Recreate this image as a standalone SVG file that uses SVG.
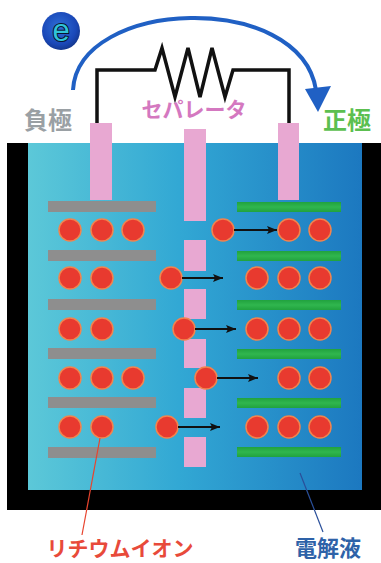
<svg xmlns="http://www.w3.org/2000/svg" width="381" height="563" viewBox="0 0 381 563">
  <defs>
    <linearGradient id="electrolyte" x1="0" y1="0" x2="1" y2="0">
      <stop offset="0" stop-color="#5cc8d8"/>
      <stop offset="0.45" stop-color="#32a8d4"/>
      <stop offset="1" stop-color="#1c78c0"/>
    </linearGradient>
    <linearGradient id="greenPlate" x1="0" y1="0" x2="0" y2="1">
      <stop offset="0" stop-color="#21a23e"/>
      <stop offset="0.5" stop-color="#30b64e"/>
      <stop offset="1" stop-color="#21a23e"/>
    </linearGradient>
    <radialGradient id="electronBall" cx="0.45" cy="0.4" r="0.6">
      <stop offset="0" stop-color="#2f6fd8"/>
      <stop offset="0.75" stop-color="#1a48b8"/>
      <stop offset="1" stop-color="#143890"/>
    </radialGradient>
    <marker id="ionArrow" viewBox="0 0 10 8" refX="10" refY="4" markerWidth="10" markerHeight="8" markerUnits="userSpaceOnUse" orient="auto">
      <path d="M0,0 L10,4 L0,8 L2,4 Z" fill="#111"/>
    </marker>
    <style>
      .plate-neg { fill: #8e8e8e; }
      .plate-pos { fill: url(#greenPlate); }
      .pink { fill: #e8a8d2; }
      .ion { fill: #e83a2f; stroke: #f2844e; stroke-width: 1.5; }
      .flow { stroke: #111; stroke-width: 1.8; fill: none; marker-end: url(#ionArrow); }
      .label { font-family: "Noto Sans CJK JP", "Noto Sans", sans-serif; font-weight: bold; text-anchor: middle; }
      .wire { stroke: #111; stroke-width: 3.5; fill: none; stroke-linejoin: miter; }
    </style>
  </defs>

  <rect width="381" height="563" fill="#ffffff"/>

  <!-- cell container and electrolyte -->
  <g id="container">
    <rect x="7" y="143" width="374" height="367" fill="#000"/>
    <rect x="28" y="143" width="334" height="347" fill="url(#electrolyte)"/>
  </g>

  <!-- external circuit with resistor -->
  <g id="circuit">
    <path class="wire" d="M97,124 V70 H155 L162,48 L175,97 L188,48 L200,97 L212,48 L225,97 L233,70 H289 V124"/>
  </g>

  <!-- electron flow arc -->
  <g id="electron-flow">
    <path d="M73,90 C78,-2 300,-10 316,90" stroke="#2060c4" stroke-width="4" fill="none"/>
    <path d="M305,89 L331,86 L318,112 Z" fill="#2060c4"/>
  </g>

  <g id="electron">
    <circle cx="61" cy="31" r="19" fill="url(#electronBall)"/>
    <text x="61" y="41" font-family="Liberation Sans, sans-serif" font-size="31" text-anchor="middle" fill="#30c4d8" stroke="#081430" stroke-width="2" paint-order="stroke">e</text>
  </g>

  <!-- negative electrode -->
  <g id="negative-electrode">
    <rect class="pink" x="90" y="123" width="22" height="77"/>
    <rect class="plate-neg" x="48" y="201" width="108" height="11"/>
    <rect class="plate-neg" x="48" y="250" width="108" height="11"/>
    <rect class="plate-neg" x="48" y="299" width="108" height="11"/>
    <rect class="plate-neg" x="48" y="348" width="108" height="11"/>
    <rect class="plate-neg" x="48" y="397" width="108" height="11"/>
    <rect class="plate-neg" x="48" y="447" width="108" height="11"/>
  </g>

  <!-- positive electrode -->
  <g id="positive-electrode">
    <rect class="pink" x="278" y="123" width="21" height="77"/>
    <rect class="plate-pos" x="237" y="202" width="104" height="10"/>
    <rect class="plate-pos" x="237" y="251" width="104" height="10"/>
    <rect class="plate-pos" x="237" y="300" width="104" height="10"/>
    <rect class="plate-pos" x="237" y="349" width="104" height="10"/>
    <rect class="plate-pos" x="237" y="398" width="104" height="10"/>
    <rect class="plate-pos" x="237" y="447" width="104" height="10"/>
  </g>

  <!-- separator -->
  <g id="separator">
    <rect class="pink" x="184" y="129" width="22" height="92"/>
    <rect class="pink" x="184" y="240" width="22" height="31"/>
    <rect class="pink" x="184" y="289" width="22" height="30"/>
    <rect class="pink" x="184" y="339" width="22" height="29"/>
    <rect class="pink" x="184" y="388" width="22" height="30"/>
    <rect class="pink" x="184" y="437" width="22" height="30"/>
  </g>

  <!-- lithium ions -->
  <g id="ions">
    <circle class="ion" cx="70" cy="230" r="11"/>
    <circle class="ion" cx="102" cy="230" r="11"/>
    <circle class="ion" cx="133" cy="230" r="11"/>
    <circle class="ion" cx="223" cy="230" r="11"/>
    <circle class="ion" cx="289" cy="230" r="11"/>
    <circle class="ion" cx="320" cy="230" r="11"/>

    <circle class="ion" cx="70" cy="278" r="11"/>
    <circle class="ion" cx="102" cy="278" r="11"/>
    <circle class="ion" cx="171" cy="278" r="11"/>
    <circle class="ion" cx="257" cy="278" r="11"/>
    <circle class="ion" cx="289" cy="278" r="11"/>
    <circle class="ion" cx="320" cy="278" r="11"/>

    <circle class="ion" cx="70" cy="329" r="11"/>
    <circle class="ion" cx="102" cy="329" r="11"/>
    <circle class="ion" cx="184" cy="329" r="11"/>
    <circle class="ion" cx="257" cy="329" r="11"/>
    <circle class="ion" cx="289" cy="329" r="11"/>
    <circle class="ion" cx="320" cy="329" r="11"/>

    <circle class="ion" cx="70" cy="378" r="11"/>
    <circle class="ion" cx="102" cy="378" r="11"/>
    <circle class="ion" cx="133" cy="378" r="11"/>
    <circle class="ion" cx="206" cy="378" r="11"/>
    <circle class="ion" cx="289" cy="378" r="11"/>
    <circle class="ion" cx="320" cy="378" r="11"/>

    <circle class="ion" cx="70" cy="427" r="11"/>
    <circle class="ion" cx="102" cy="427" r="11"/>
    <circle class="ion" cx="167" cy="427" r="11"/>
    <circle class="ion" cx="257" cy="427" r="11"/>
    <circle class="ion" cx="289" cy="427" r="11"/>
    <circle class="ion" cx="320" cy="427" r="11"/>
  </g>

  <!-- ion migration arrows and label leaders -->
  <g id="connectors">
    <line class="flow" x1="234" y1="230" x2="277" y2="230"/>
    <line class="flow" x1="182" y1="278" x2="223" y2="278"/>
    <line class="flow" x1="195" y1="329" x2="236" y2="329"/>
    <line class="flow" x1="217" y1="378" x2="258" y2="378"/>
    <line class="flow" x1="178" y1="427" x2="220" y2="427"/>
    <line x1="100" y1="438" x2="82" y2="535" stroke="#e8442e" stroke-width="1.2"/>
    <line x1="300" y1="473" x2="323" y2="532" stroke="#2a4f9a" stroke-width="1.2"/>
  </g>

  <!-- labels -->
  <g id="labels">
    <text class="label" x="48" y="129" font-size="24" fill="#9aa0a4">負極</text>
    <text class="label" x="347" y="129" font-size="24" fill="#5cbf50">正極</text>
    <text class="label" x="194" y="117" font-size="21" fill="#d478c0">セパレータ</text>
    <text class="label" x="120" y="556" font-size="21" fill="#e84a3a">リチウムイオン</text>
    <text class="label" x="328" y="556" font-size="22" fill="#2e62a8">電解液</text>
  </g>
</svg>
